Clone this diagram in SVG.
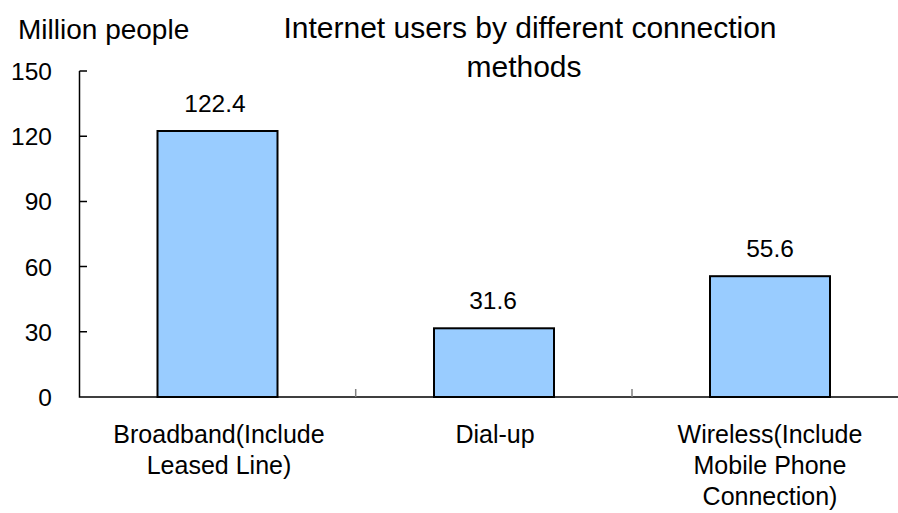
<svg xmlns="http://www.w3.org/2000/svg" width="898" height="513" viewBox="0 0 898 513">
  <style>
    text { font-family: "Liberation Sans", Arial, sans-serif; fill: #000; }
    .title { font-size: 30px; text-anchor: middle; }
    .unit { font-size: 28px; }
    .tick { font-size: 24.5px; text-anchor: end; }
    .val { font-size: 24.5px; text-anchor: middle; }
    .cat { font-size: 25px; text-anchor: middle; }
    .axis { stroke: #000; stroke-width: 1.5; fill: none; }
    .cattick { stroke: #808080; stroke-width: 1.5; }
    .bar { fill: #99CCFF; stroke: #000; stroke-width: 2; }
  </style>

  <!-- headings -->
  <text class="unit" x="18" y="39">Million people</text>
  <text class="title" x="530" y="38">Internet users by different connection</text>
  <text class="title" x="524" y="77">methods</text>

  <!-- axes, ticks and value scale -->
  <g id="axes">
    <path class="axis" d="M79.5 71 V397 H898"/>
    <path class="axis" d="M79.5 71 H87 M79.5 136.2 H87 M79.5 201.4 H87 M79.5 266.6 H87 M79.5 331.8 H87"/>
    <path class="cattick" d="M355.7 389 V397 M632 389 V397"/>
    <text class="tick" x="52" y="80">150</text>
    <text class="tick" x="52" y="145">120</text>
    <text class="tick" x="52" y="210">90</text>
    <text class="tick" x="52" y="275.5">60</text>
    <text class="tick" x="52" y="340.5">30</text>
    <text class="tick" x="52" y="406">0</text>
  </g>

  <!-- bars -->
  <g id="bar-broadband">
    <rect class="bar" x="157.5" y="131" width="120" height="266"/>
    <text class="val" x="215" y="111.5">122.4</text>
    <text class="cat" x="219" y="443">Broadband(Include</text>
    <text class="cat" x="219" y="474">Leased Line)</text>
  </g>
  <g id="bar-dialup">
    <rect class="bar" x="434" y="328.3" width="120" height="68.7"/>
    <text class="val" x="493" y="309">31.6</text>
    <text class="cat" x="495" y="443">Dial-up</text>
  </g>
  <g id="bar-wireless">
    <rect class="bar" x="710" y="276.2" width="120" height="120.8"/>
    <text class="val" x="770" y="257">55.6</text>
    <text class="cat" x="770" y="443">Wireless(Include</text>
    <text class="cat" x="770" y="474">Mobile Phone</text>
    <text class="cat" x="770" y="505">Connection)</text>
  </g>
</svg>
